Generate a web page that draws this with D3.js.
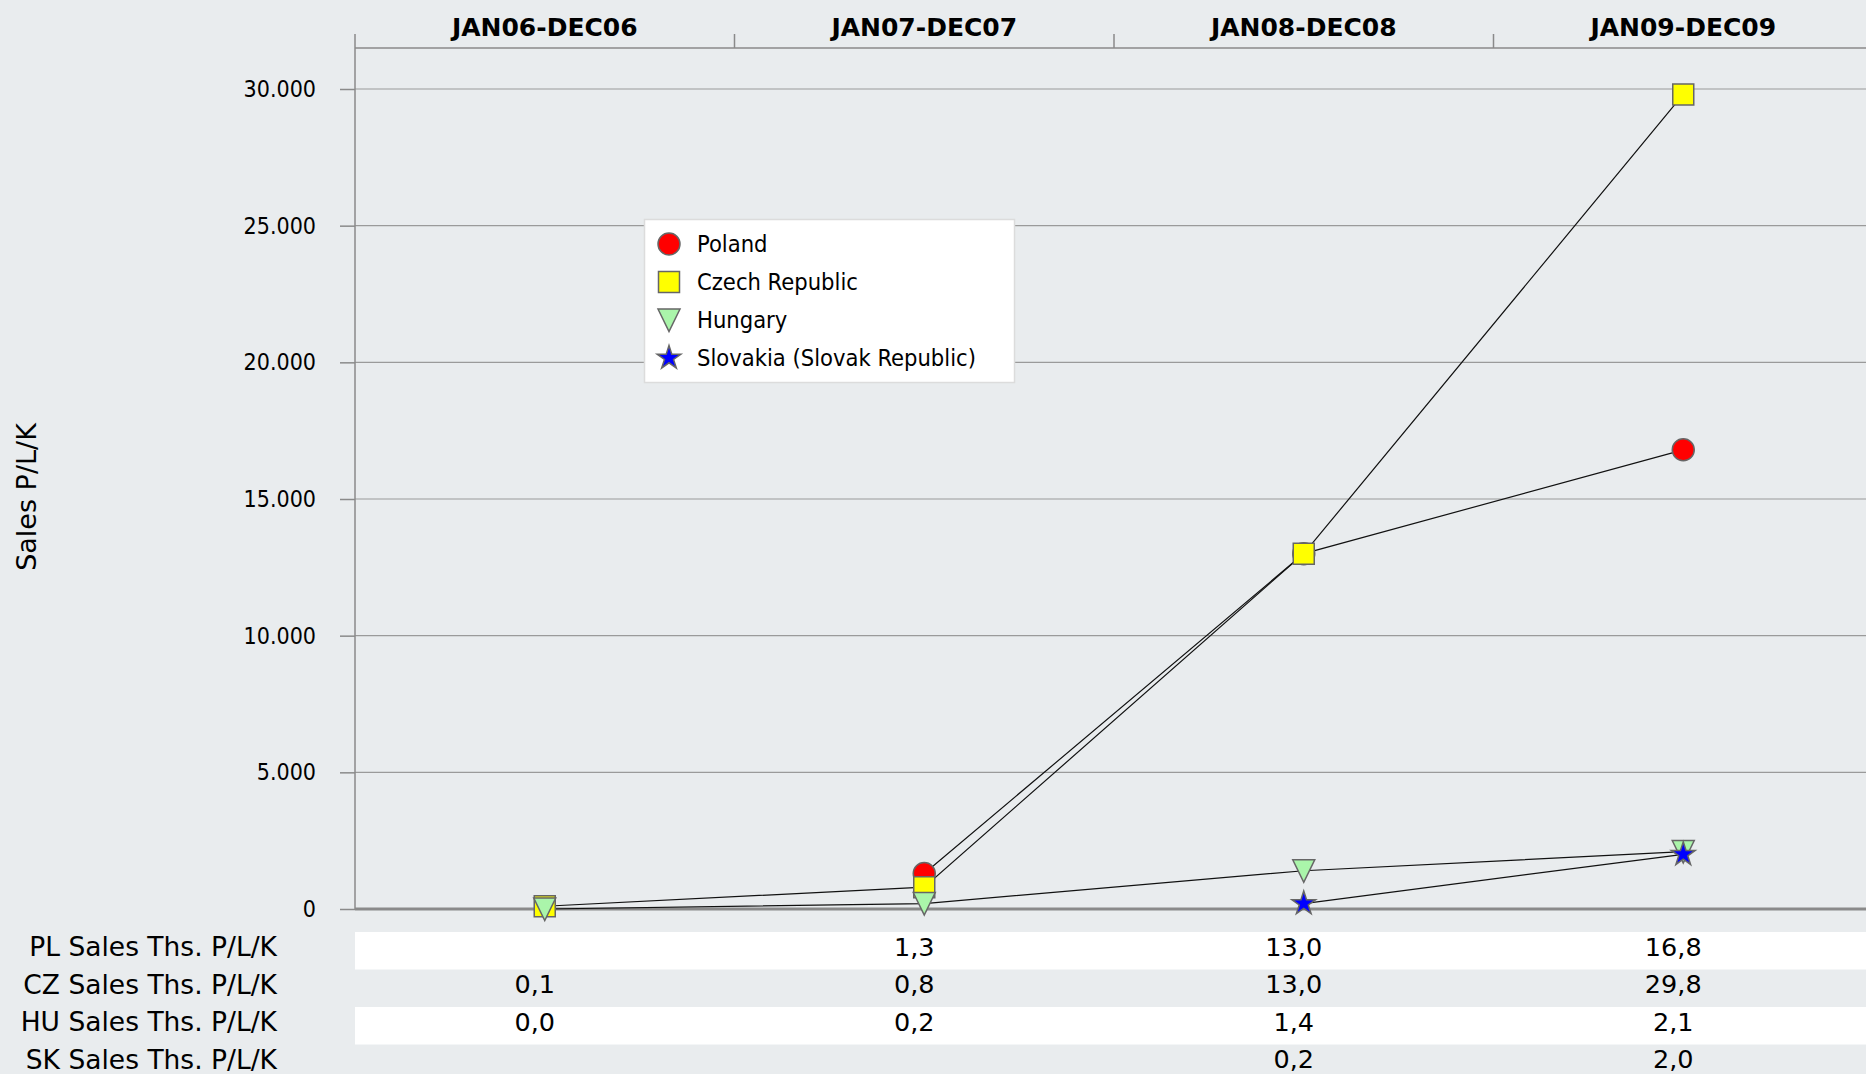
<!DOCTYPE html>
<html><head><meta charset="utf-8">
<script src="https://cdn.jsdelivr.net/npm/d3@7"></script>
<style>
html,body{margin:0;padding:0;background:#e9ecee;}
svg{display:block;}
text{font-family:"DejaVu Sans Condensed","DejaVu Sans",sans-serif;fill:#000;}
.wide{font-family:"DejaVu Sans",sans-serif;}
</style></head>
<body>
<svg id="chart" width="1866" height="1074"></svg>
<script>
const categories = ["JAN06-DEC06","JAN07-DEC07","JAN08-DEC08","JAN09-DEC09"];
const seriesNames = ["Poland","Czech Republic","Hungary","Slovakia (Slovak Republic)"];
const rowLabels = ["PL Sales Ths. P/L/K","CZ Sales Ths. P/L/K","HU Sales Ths. P/L/K","SK Sales Ths. P/L/K"];
const poland   = [null, 1300, 13000, 16800];
const czech    = [100, 800, 13000, 29800];
const hungary  = [0, 200, 1400, 2100];
const slovakia = [null, null, 200, 2000];
const yTicks = [0, 5000, 10000, 15000, 20000, 25000, 30000];
const colors = ["#ff0000","#ffff00","#aaf5aa","#0000ff"];
const allSeries = [poland, czech, hungary, slovakia];

const svg = d3.select("#chart");
const W = 1866, H = 1074;
const left = 355, bandW = 379.5;
const x = d3.scaleBand().domain(categories).range([left, left + bandW*categories.length]).padding(0);
const y = d3.scaleLinear().domain([0, 30000]).range([909, 89]);
const cx = c => x(c) + x.bandwidth()/2;

const loc = d3.formatLocale({decimal:",", thousands:".", grouping:[3], currency:["",""]});
const fmtTick = loc.format(",d");
const fmtVal = v => loc.format(",.1f")(v/1000);

// Table row backgrounds
const rowTop = 932, rowH = 37.5;
rowLabels.forEach((r,i)=>{
  if(i%2===0) svg.append("rect").attr("x", left).attr("y", rowTop + i*rowH).attr("width", W-left).attr("height", rowH).attr("fill","#ffffff");
});

// grid lines
svg.append("g").selectAll("line").data(yTicks.filter(d=>d>0)).join("line")
  .attr("x1", left).attr("x2", W).attr("y1", d=>y(d)).attr("y2", d=>y(d))
  .attr("stroke","#9a9a9a").attr("stroke-width",1.2);

// Y axis
const yAxis = d3.axisLeft(y).tickValues(yTicks).tickFormat(fmtTick).tickSize(15).tickPadding(24);
const ya = svg.append("g").attr("transform",`translate(${left},0)`).call(yAxis);
ya.select(".domain").remove();
ya.selectAll(".tick line").attr("stroke","#8a8a8a").attr("stroke-width",1.5);
ya.selectAll(".tick text").style("font-size","23px").attr("fill","#000");
svg.append("line").attr("x1",left).attr("x2",left).attr("y1",34).attr("y2",909).attr("stroke","#8a8a8a").attr("stroke-width",1.5);

// Top axis
const xAxis = d3.axisTop(x).tickSize(0).tickPadding(12);
const xa = svg.append("g").attr("transform",`translate(0,48)`).call(xAxis);
xa.select(".domain").remove();
xa.selectAll(".tick text").attr("class","wide").style("font-size","25px").style("font-weight","bold");
svg.append("line").attr("x1",left).attr("x2",W).attr("y1",48).attr("y2",48).attr("stroke","#8a8a8a").attr("stroke-width",1.5);
svg.append("g").selectAll("line").data(categories.slice(1)).join("line")
  .attr("x1",d=>x(d)).attr("x2",d=>x(d)).attr("y1",34).attr("y2",48)
  .attr("stroke","#8a8a8a").attr("stroke-width",1.5);

// zero line
svg.append("line").attr("x1",left).attr("x2",W).attr("y1",y(0)).attr("y2",y(0)).attr("stroke","#8a8a8a").attr("stroke-width",3);

// y title
svg.append("text").attr("class","wide").attr("transform",`translate(26,497) rotate(-90)`).attr("text-anchor","middle")
  .attr("dominant-baseline","central").style("font-size","27px").text("Sales P/L/K");

// symbols
const triDown = {draw(ctx, size){ const s = Math.sqrt(size)/2; ctx.moveTo(-s,-s); ctx.lineTo(s,-s); ctx.lineTo(0, s*1.05); ctx.closePath(); }};
const symTypes = [d3.symbolCircle, d3.symbolSquare, triDown, d3.symbolStar];
const symSizes = [380, 441, 484, 175];
const symbolPath = i => d3.symbol().type(symTypes[i]).size(symSizes[i])();

// lines + markers
const line = d3.line().defined(d=>d.v!==null).x(d=>cx(d.c)).y(d=>y(d.v));
allSeries.forEach((vals,i)=>{
  const pts = categories.map((c,j)=>({c, v: vals[j]}));
  svg.append("path").attr("d", line(pts)).attr("fill","none").attr("stroke","#111").attr("stroke-width",1.2);
});
allSeries.forEach((vals,i)=>{
  const pts = categories.map((c,j)=>({c, v: vals[j]})).filter(d=>d.v!==null);
  svg.append("g").selectAll("path").data(pts).join("path")
    .attr("transform", d=>`translate(${cx(d.c)},${y(d.v)})`)
    .attr("d", symbolPath(i)).attr("fill", colors[i]).attr("stroke","#666").attr("stroke-width",1.5);
});

// legend
const lg = svg.append("g");
lg.append("rect").attr("x",644.5).attr("y",219.5).attr("width",370).attr("height",163).attr("fill","#fff").attr("stroke","#dcdcdc").attr("stroke-width",1.5);
seriesNames.forEach((n,i)=>{
  const yy = 244 + i*38;
  lg.append("path").attr("transform",`translate(669,${yy})`).attr("d", symbolPath(i)).attr("fill",colors[i]).attr("stroke","#666").attr("stroke-width",1.5);
  lg.append("text").attr("x",697).attr("y",yy).attr("dominant-baseline","central").style("font-size","23.5px").text(n);
});

// table
rowLabels.forEach((r,i)=>{
  const yy = rowTop + i*rowH + rowH/2 - 4;
  svg.append("text").attr("class","wide").attr("x",277).attr("y",yy).attr("text-anchor","end").attr("dominant-baseline","central").style("font-size","26.5px").text(r);
  allSeries[i].forEach((v,j)=>{
    if(v===null) return;
    svg.append("text").attr("class","wide").attr("x",cx(categories[j])-10).attr("y",yy).attr("text-anchor","middle").attr("dominant-baseline","central").style("font-size","25.5px").text(fmtVal(v));
  });
});
</script>
</body></html>
